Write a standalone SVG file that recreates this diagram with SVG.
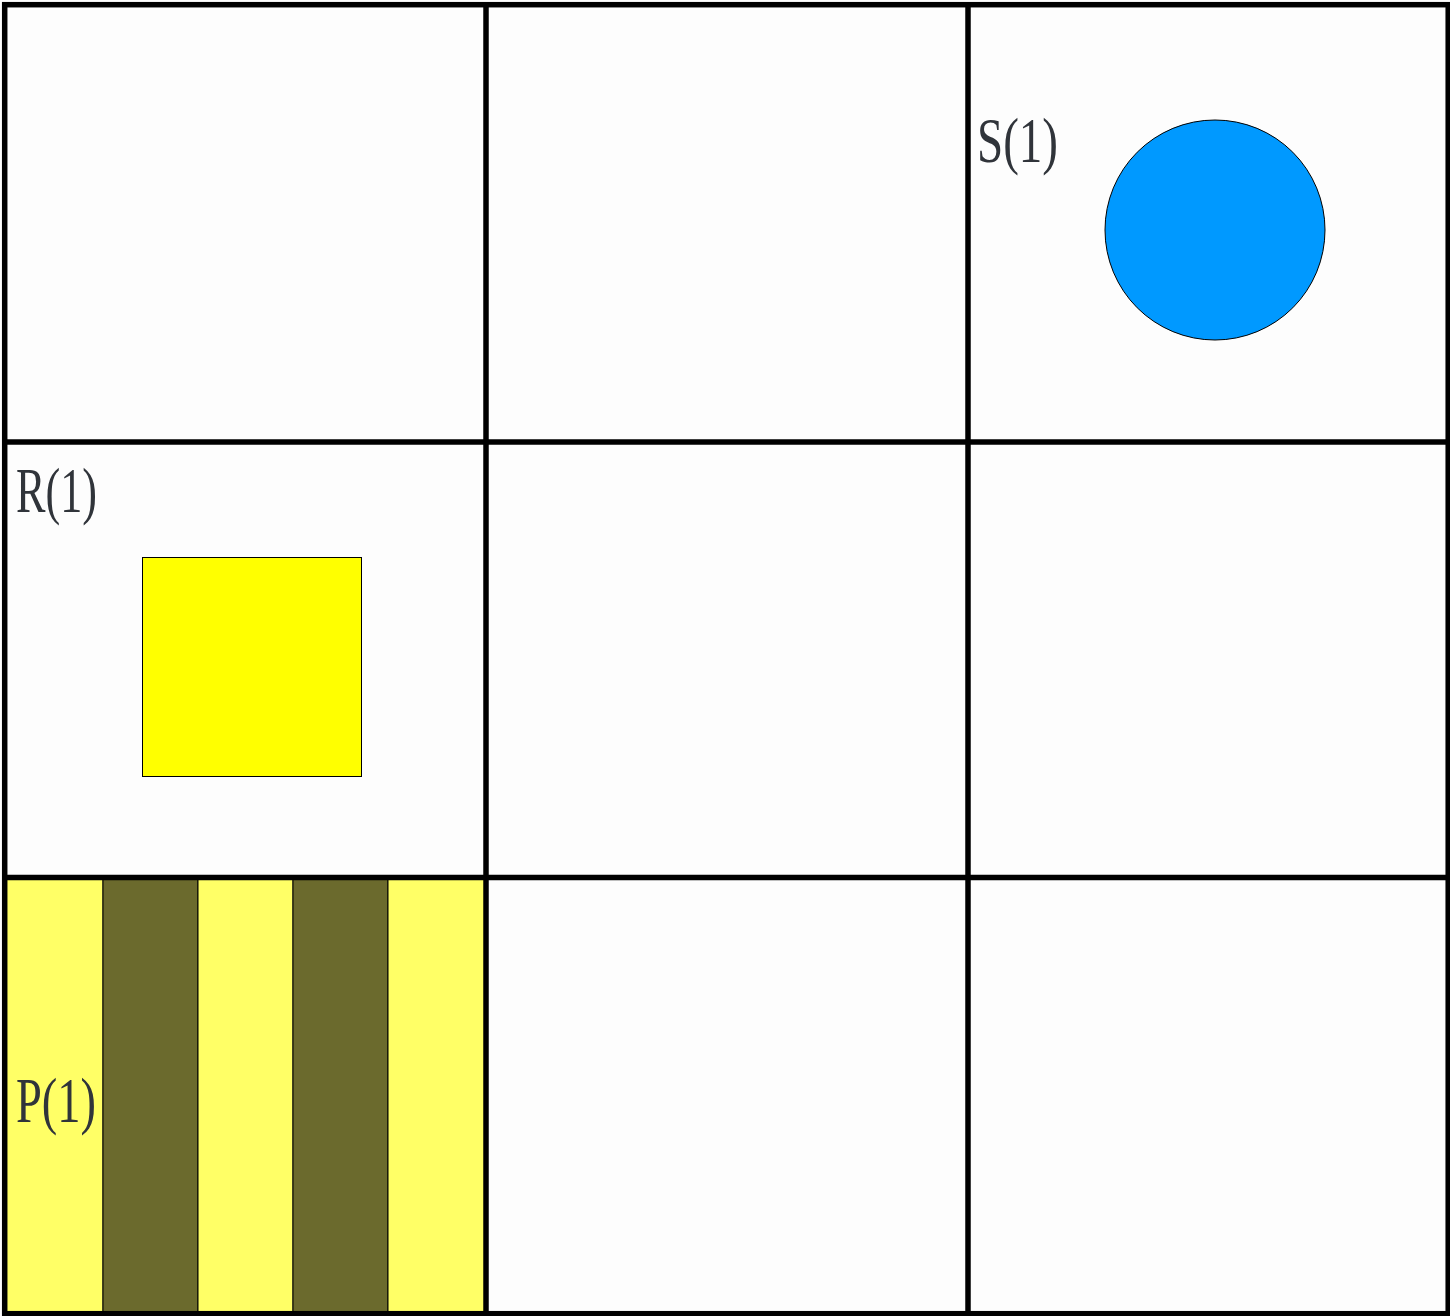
<svg xmlns="http://www.w3.org/2000/svg" width="1450" height="1316" viewBox="0 0 1450 1316">
<style>
.lbl{font-family:'Liberation Serif',serif;font-size:64px;fill:#30343a}
.grid{fill:none;stroke:#000;stroke-width:5.5}
.thin{stroke:#000;stroke-width:1}
.ly{fill:#ffff66}
.ol{fill:#6b6a2d}
</style>
<rect x="0" y="0" width="1450" height="1316" fill="#fdfdfd"/>
<g id="cell-P">
<rect class="ly thin" x="5" y="878" width="98" height="435"/>
<rect class="ol thin" x="103" y="878" width="95" height="435"/>
<rect class="ly thin" x="198" y="878" width="95" height="435"/>
<rect class="ol thin" x="293" y="878" width="95" height="435"/>
<rect class="ly thin" x="388" y="878" width="98" height="435"/>
<text class="lbl" x="16" y="1122" textLength="80" lengthAdjust="spacingAndGlyphs">P(1)</text>
</g>
<g id="cell-R">
<rect class="thin" x="142.5" y="557.5" width="219" height="219" fill="#ffff00"/>
<text class="lbl" x="16" y="512" textLength="81" lengthAdjust="spacingAndGlyphs">R(1)</text>
</g>
<g id="cell-S">
<circle class="thin" cx="1215" cy="230" r="110" fill="#0099ff"/>
<text class="lbl" x="977" y="162" textLength="81" lengthAdjust="spacingAndGlyphs">S(1)</text>
</g>
<g id="grid">
<rect class="grid" x="4.7" y="4.7" width="1443.5" height="1309"/>
<line class="grid" x1="486" y1="4" x2="486" y2="1314"/>
<line class="grid" x1="968" y1="4" x2="968" y2="1314"/>
<line class="grid" x1="4" y1="442" x2="1448" y2="442"/>
<line class="grid" x1="4" y1="877.5" x2="1448" y2="877.5"/>
</g>
</svg>
